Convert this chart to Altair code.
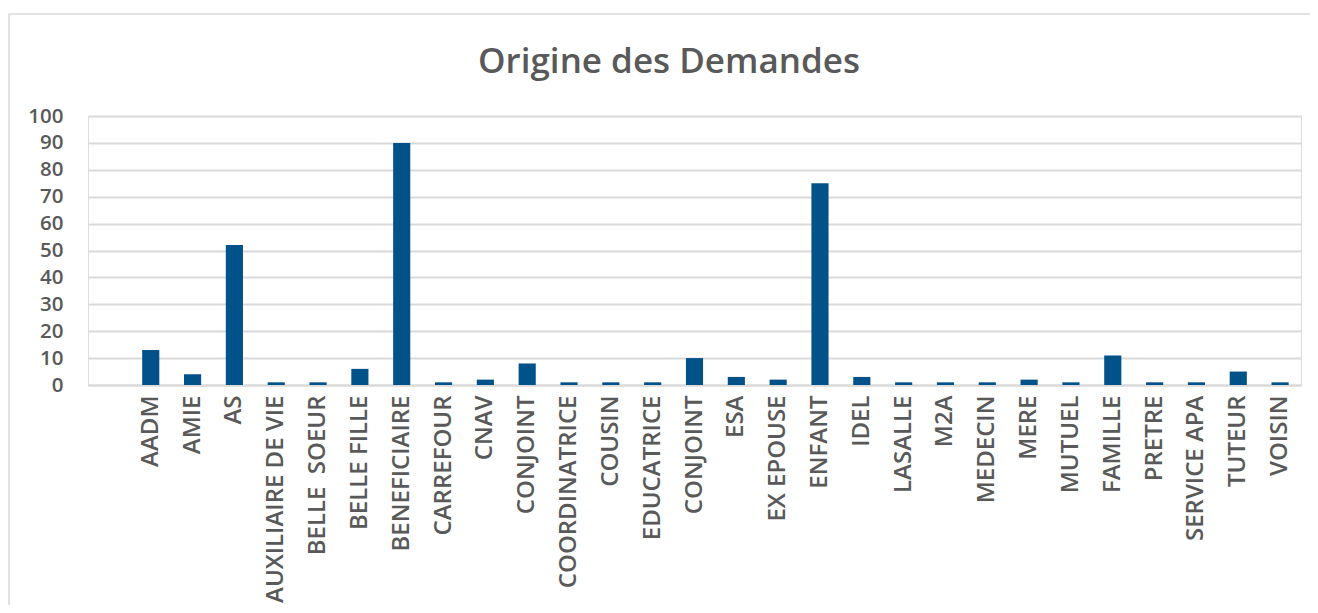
import altair as alt
import pandas as pd

# Categories (first one is an empty category in the source chart; CONJOINT appears twice)
categories = [" ", "AADM", "AMIE", "AS", "AUXILIAIRE DE VIE", "BELLE\u00a0 SOEUR", "BELLE FILLE",
              "BENEFICIAIRE", "CARREFOUR", "CNAV", "CONJOINT", "COORDINATRICE", "COUSIN",
              "EDUCATRICE", "CONJOINT#2", "ESA", "EX EPOUSE", "ENFANT", "IDEL", "LASALLE",
              "M2A", "MEDECIN", "MERE", "MUTUEL", "FAMILLE", "PRETRE", "SERVICE APA",
              "TUTEUR", "VOISIN"]
values = [None, 13, 4, 52, 1, 1, 6, 90, 1, 2, 8, 1, 1, 1, 10, 3, 2, 75, 3, 1, 1, 1, 2, 1,
          11, 1, 1, 5, 1]
y_ticks = [0, 10, 20, 30, 40, 50, 60, 70, 80, 90, 100]
title_text = ["Origine des Demandes"]

df = pd.DataFrame({"cat": categories, "val": values})

FONT = "Open Sans"
TXT = "#595959"
GRID = "#d9d9d9"

bars = alt.Chart(df).mark_bar(color="#02528a").encode(
    x=alt.X("cat:N", sort=categories,
            scale=alt.Scale(domain=categories, paddingInner=0.59, paddingOuter=0.295),
            axis=alt.Axis(title=None, labelAngle=270, labelAlign="right", labelBaseline="middle",
                          labelExpr="split(datum.label, '#')[0]", labelPadding=10,
                          ticks=False, domainColor=GRID, domainWidth=2,
                          labelFont=FONT, labelFontSize=24, labelFontWeight=600,
                          labelColor=TXT, labelLimit=400)),
    y=alt.Y("val:Q", scale=alt.Scale(domain=[0, 100], nice=False),
            axis=alt.Axis(title=None, values=y_ticks, grid=True, gridColor=GRID, gridWidth=2,
                          domain=False, ticks=False, labelPadding=25,
                          labelFont=FONT, labelFontSize=20.5, labelFontWeight=600,
                          labelColor=TXT)),
)

frame = alt.Chart(pd.DataFrame({"k": [0]})).mark_rect(
    fill=None, stroke="#d9d9d9", strokeWidth=1.5, clip=False
).encode(x=alt.value(-79), x2=alt.value(1228), y=alt.value(-102), y2=alt.value(260 + 269))

title = alt.Chart(pd.DataFrame({"t": title_text})).mark_text(
    font=FONT, fontSize=35, fontWeight=600, color=TXT, align="center", baseline="alphabetic"
).encode(text="t:N", x=alt.value(581), y=alt.value(-43))

chart = alt.layer(frame, bars, title).properties(
    width=1213, height=269,
    autosize=alt.AutoSizeParams(type="none"),
    padding={"left": 80, "top": 108, "right": 9, "bottom": 220},
).configure_view(stroke=None).configure(background="white")

chart.save("out.html", embed_options={"renderer": "svg", "actions": False})
